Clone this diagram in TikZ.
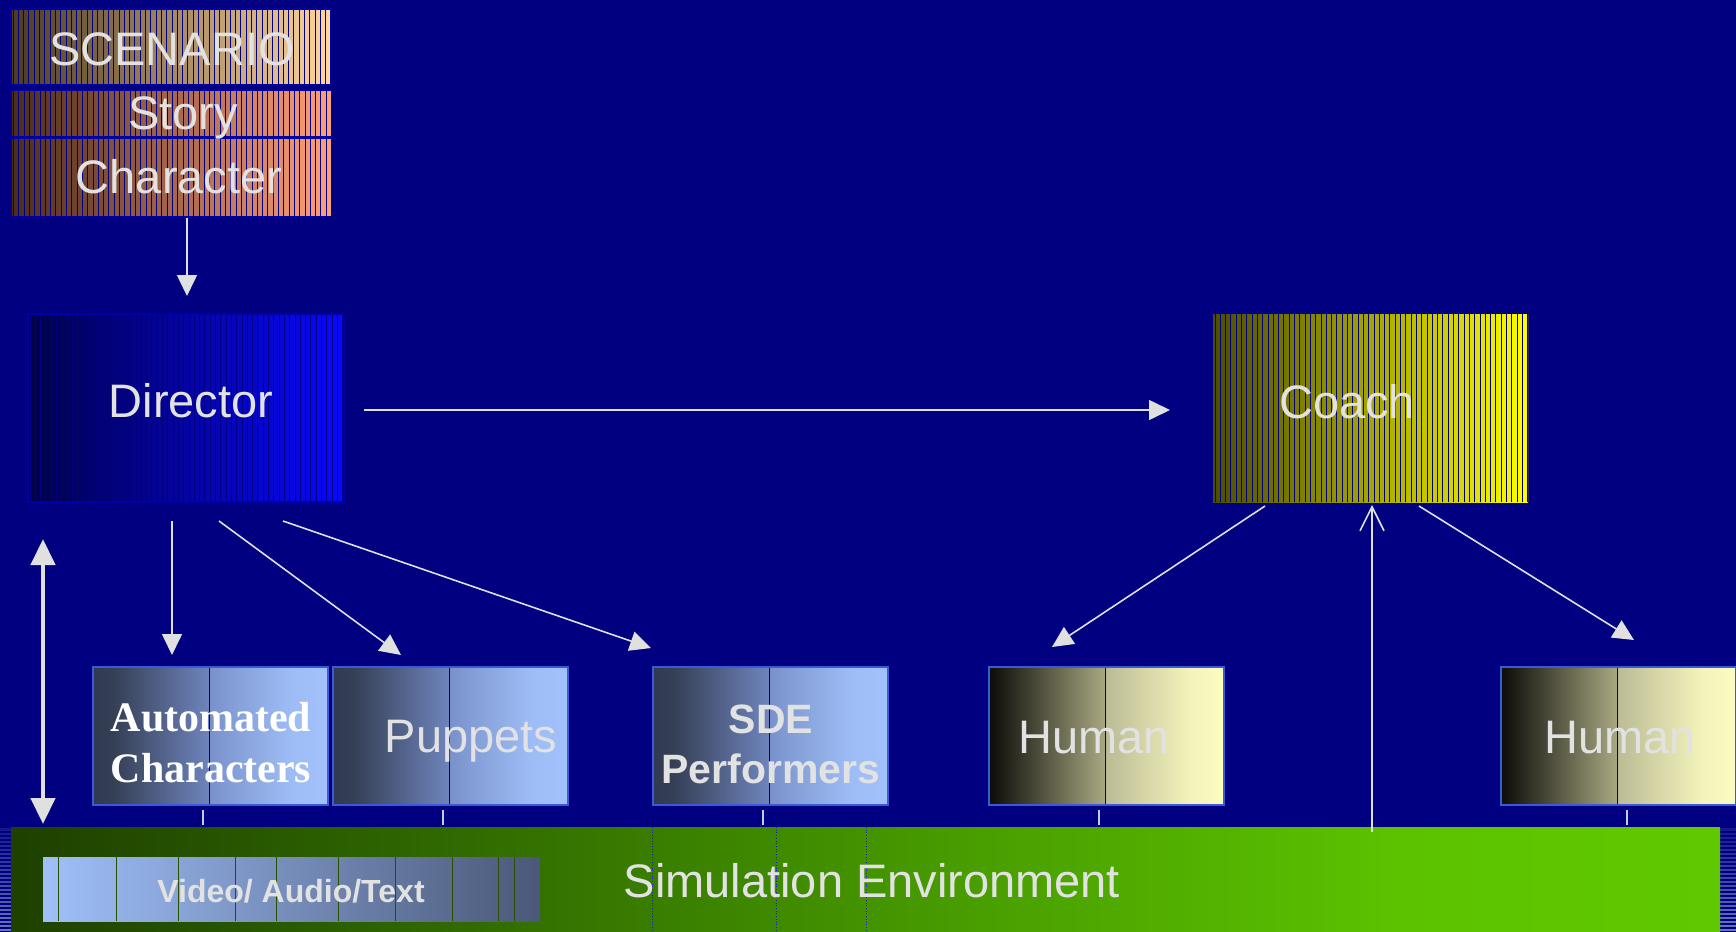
\documentclass[tikz,border=0pt]{standalone}
\usepackage{fontspec}
\setmainfont{Liberation Sans}
\newfontfamily\timesfont{Liberation Serif}
\usetikzlibrary{arrows.meta,calc,shadings}

\definecolor{bgnavy}{HTML}{000080}
\definecolor{rimblue}{HTML}{0000A4}
\definecolor{txtgray}{HTML}{E2E2E2}
\definecolor{arrowgray}{HTML}{E0E0E0}
\definecolor{tickgray}{HTML}{C8C8DC}
\definecolor{boxedge}{HTML}{3A5AD8}
\definecolor{edgeblue}{HTML}{6A78B8}
\definecolor{scenL}{HTML}{4A3A24}
\definecolor{scenM}{HTML}{BE966C}
\definecolor{scenR}{HTML}{FFD69E}
\definecolor{storyL}{HTML}{4A2C1E}
\definecolor{storyM}{HTML}{BE7050}
\definecolor{storyR}{HTML}{FFA07A}
\definecolor{dirL}{HTML}{000048}
\definecolor{dirM}{HTML}{0000A8}
\definecolor{dirR}{HTML}{0808FF}
\definecolor{coachL}{HTML}{4C4C00}
\definecolor{coachM}{HTML}{B4B400}
\definecolor{coachR}{HTML}{FFFF00}
\definecolor{envline}{HTML}{2020B0}
\definecolor{mediaL}{HTML}{A0C0FA}
\definecolor{mediaR}{HTML}{4A5878}
\definecolor{medialine}{HTML}{285000}

% shadings: the box spans 25bp..75bp of each definition
\pgfdeclarehorizontalshading{agentshade}{100bp}{%
  rgb(0bp)=(0.192,0.227,0.314); rgb(25bp)=(0.192,0.227,0.314);
  rgb(29bp)=(0.204,0.243,0.329); rgb(49.7bp)=(0.431,0.518,0.737);
  rgb(50bp)=(0.478,0.573,0.800); rgb(67.5bp)=(0.620,0.741,0.965);
  rgb(75bp)=(0.635,0.753,0.980); rgb(100bp)=(0.635,0.753,0.980)}
\pgfdeclarehorizontalshading{humanshade}{100bp}{%
  rgb(0bp)=(0.047,0.047,0.031); rgb(25bp)=(0.047,0.047,0.031);
  rgb(30bp)=(0.165,0.165,0.125); rgb(49.7bp)=(0.659,0.659,0.510);
  rgb(50bp)=(0.737,0.737,0.588); rgb(67.5bp)=(0.949,0.949,0.729);
  rgb(75bp)=(0.992,0.992,0.753); rgb(100bp)=(0.992,0.992,0.753)}
\pgfdeclarehorizontalshading{envshade}{100bp}{%
  rgb(0bp)=(0.118,0.251,0); rgb(25bp)=(0.118,0.251,0);
  rgb(39.3bp)=(0.196,0.431,0); rgb(53.9bp)=(0.290,0.627,0);
  rgb(65.6bp)=(0.361,0.761,0); rgb(75bp)=(0.376,0.784,0);
  rgb(100bp)=(0.376,0.784,0)}

\tikzset{
  box/.style={rectangle, inner sep=0pt, draw=none},
  % thin navy vertical stripes laid over a shaded box
  striped/.style={path picture={
    \foreach \k in {0,...,64}
      \draw[bgnavy, line width=0.5pt]
        ([xshift=\k*2.65pt+1pt]path picture bounding box.south west) --
        ([xshift=\k*2.65pt+1pt]path picture bounding box.north west);}},
  % navy divider line inside the lower boxes
  divided/.style={path picture={
    \draw[bgnavy, line width=0.5pt]
      ($(path picture bounding box.south west)!0.494!(path picture bounding box.south east)$) --
      ($(path picture bounding box.north west)!0.494!(path picture bounding box.north east)$);}},
  scenbox/.style={box, striped, draw=rimblue, line width=0.9pt, minimum width=160pt},
  agentbox/.style={box, divided, draw=boxedge, line width=0.6pt,
    minimum width=117.5pt, minimum height=69pt, shading=agentshade},
  humanbox/.style={box, divided, draw=boxedge, line width=0.6pt,
    minimum width=117.5pt, minimum height=69pt, shading=humanshade},
  lbl/.style={text=txtgray, inner sep=0pt, anchor=base,
    font=\fontsize{23.5}{28}\selectfont},
  arr/.style={draw=arrowgray, line width=0.8pt,
    -{Triangle[length=10.5pt,width=10pt]}},
  tick/.style={draw=tickgray, line width=0.7pt},
}

\begin{document}
\begin{tikzpicture}[x=0.5pt, y=-0.5pt]
\useasboundingbox (0,0) rectangle (1736,932);
\fill[bgnavy] (0,0) rectangle (1736,932);

% ---- striped edges of the frame at the bottom corners
\foreach \xa/\xb in {0/11, 1720/1736} {
  \shade[top color=bgnavy!80!edgeblue, bottom color=edgeblue] (\xa,828) rectangle (\xb,932);
  \foreach \yy in {832,836,...,932}
    \draw[bgnavy, line width=0.6pt] (\xa,\yy) -- (\xb,\yy);
}

% ---- scenario stack
\node[scenbox, minimum height=38pt,
      left color=scenL, middle color=scenM, right color=scenR] (scen) at (171,47) {};
\node[scenbox, minimum height=23.5pt,
      left color=storyL, middle color=storyM, right color=storyR] (story) at (171.5,113.5) {};
\node[scenbox, minimum height=39pt,
      left color=storyL, middle color=storyM, right color=storyR] (charbox) at (171.5,177.5) {};
\node[lbl] (scentext) at (172,65) {SCENARIO};
\node[lbl] (storytext) at (183,129) {Story};
\node[lbl] (chartext) at (179,193) {Character};

% ---- director and coach
\node[box, striped, draw=rimblue, line width=0.8pt, minimum width=158pt, minimum height=94pt,
      left color=dirL, middle color=dirM, right color=dirR] (dir) at (186,408) {};
\node[lbl] (dirtext) at (191,417) {Director};

\node[box, striped, minimum width=157.5pt, minimum height=94pt,
      left color=coachL, middle color=coachM, right color=coachR] (coach) at (1370.5,408) {};
\node[lbl] (coachtext) at (1347,418) {Coach};

% ---- performers (two-line labels are anchored on the last baseline)
\node[agentbox] (auto) at (210.5,736) {};
\node[text=white, inner sep=0pt, anchor=base, align=center,
      font=\timesfont\bfseries\fontsize{21}{25.5}\selectfont] (autotext) at (211,782)
      {Automated\\Characters};
\node[agentbox] (pup) at (450.5,736) {};
\node[lbl] (puptext) at (471,752) {Puppets};
\node[agentbox] (sde) at (770.5,736) {};
\node[lbl, align=center, font=\bfseries\fontsize{20.5}{25}\selectfont] (sdetext) at (771,783)
      {SDE\\Performers};
\node[humanbox] (hum1) at (1106.5,736) {};
\node[lbl] (hum1text) at (1094,753) {Human};
\node[humanbox] (hum2) at (1618.5,736) {};
\node[lbl] (hum2text) at (1620,753) {Human};

% ---- simulation environment
\node[box, minimum width=854.5pt, minimum height=54pt, shading=envshade] (env) at (865.5,881) {};
\foreach \xx in {652,776,866}
  \draw[envline, line width=0.35pt, densely dotted] (\xx,827) -- (\xx,932);
\node[lbl] (envtext) at (872,897) {Simulation Environment};

\node[box, minimum width=248.5pt, minimum height=32pt,
      left color=mediaL, right color=mediaR] (media) at (291.5,889) {};
\foreach \xx in {58,116,178,235,276,338,395,452,498,514}
  \draw[medialine, line width=0.4pt] (\xx,857) -- (\xx,921);
\node[lbl, font=\bfseries\fontsize{16}{19}\selectfont] (mediatext) at (291,902) {Video/ Audio/Text};

% ---- connector end points
\coordinate (c1) at (187,218);  \coordinate (c2) at (187,296);
\coordinate (d1) at (364,410);  \coordinate (d2) at (1170,410);
\coordinate (a1) at (172,521);  \coordinate (a2) at (172,655);
\coordinate (p1) at (219,521);  \coordinate (p2) at (401,655);
\coordinate (s1) at (283,521);  \coordinate (s2) at (651,648);
\coordinate (h1) at (1265,506); \coordinate (h2) at (1052,647);
\coordinate (g1) at (1419,506); \coordinate (g2) at (1634,640);
\coordinate (u1) at (1372,832); \coordinate (u2) at (1372,505);
\coordinate (l1) at (43,539);   \coordinate (l2) at (43,824);

\draw[arr] (c1) -- (c2);
\draw[arr] (d1) -- (d2);
\draw[arr] (a1) -- (a2);
\draw[arr] (p1) -- (p2);
\draw[arr] (s1) -- (s2);
\draw[arr] (h1) -- (h2);
\draw[arr] (g1) -- (g2);
\draw[draw=arrowgray, line width=0.8pt, -{Straight Barb[length=12pt,width=12pt]}] (u1) -- (u2);
\draw[draw=arrowgray, line width=2.2pt,
      {Triangle[length=13pt,width=12pt]}-{Triangle[length=13pt,width=12pt]}] (l1) -- (l2);

% ---- short ticks between the performers and the environment
\foreach \xx in {203, 443, 763, 1099, 1627}
  \draw[tick] (\xx,810) -- (\xx,825);
\end{tikzpicture}
\end{document}
